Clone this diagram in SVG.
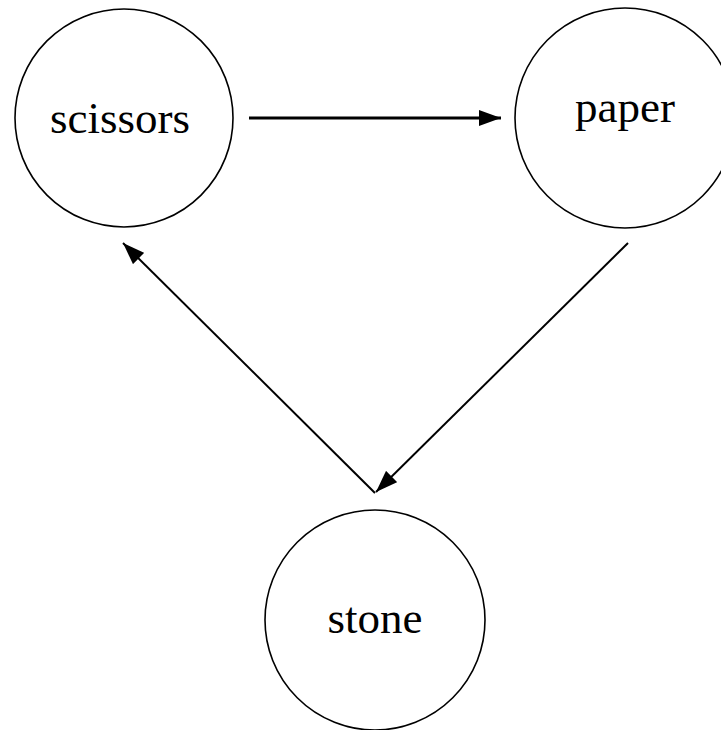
<svg xmlns="http://www.w3.org/2000/svg" width="721" height="730" viewBox="0 0 721 730">
  <style>
    .node circle { fill: #ffffff; stroke: #000000; stroke-width: 1.6; }
    .node text { font-family: 'Liberation Serif', 'Times New Roman', serif; font-size: 45px; fill: #000000; text-anchor: middle; }
    .edge { stroke: #000000; fill: none; }
  </style>
  <defs>
    <marker id="arrow" viewBox="0 0 22 16" refX="22" refY="8" markerWidth="22" markerHeight="16" markerUnits="userSpaceOnUse" orient="auto">
      <path d="M0,0 L22,8 L0,16 Z" fill="#000000"/>
    </marker>
  </defs>
  <rect width="721" height="730" fill="#ffffff"/>
  <g id="scissors" class="node">
    <circle cx="124" cy="118" r="109"/>
    <text x="120" y="133">scissors</text>
  </g>
  <g id="paper" class="node">
    <circle cx="625" cy="118" r="110"/>
    <text x="625" y="122">paper</text>
  </g>
  <g id="stone" class="node">
    <circle cx="375" cy="620" r="110"/>
    <text x="375" y="633">stone</text>
  </g>
  <g id="connectors">
    <line class="edge" x1="249" y1="118" x2="501" y2="118" stroke-width="3" marker-end="url(#arrow)"/>
    <line class="edge" x1="628" y1="243" x2="376" y2="492" stroke-width="2" marker-end="url(#arrow)"/>
    <line class="edge" x1="375" y1="493" x2="123" y2="243" stroke-width="2" marker-end="url(#arrow)"/>
  </g>
</svg>
